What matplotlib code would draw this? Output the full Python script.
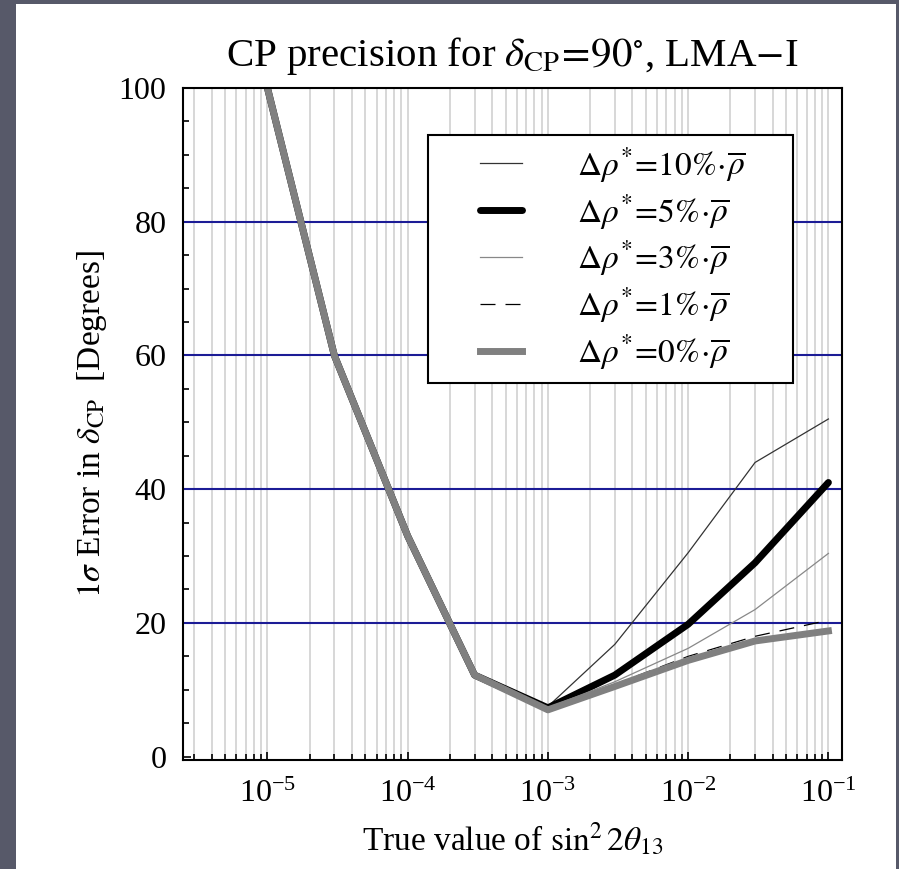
import matplotlib
matplotlib.use("Agg")
import matplotlib.pyplot as plt
from matplotlib.patches import Rectangle
from matplotlib.ticker import LogLocator, NullFormatter, MultipleLocator

plt.rcParams['font.family'] = ['Liberation Serif', 'DejaVu Serif']
plt.rcParams['mathtext.fontset'] = 'stix'

# true value of sin^2 2theta13
x = [1e-5, 3e-5, 1e-4, 3e-4, 1e-3, 3e-3, 1e-2, 3e-2, 1e-1]

# 1 sigma error on delta_CP [deg] for each density uncertainty
err_10 = [100, 60, 33, 12.2, 7.5, 16.8, 30.5, 44.0, 50.5]
err_5 = [100, 60, 33, 12.2, 7.3, 12.2, 19.8, 29.0, 41.0]
err_3 = [100, 60, 33, 12.2, 7.3, 11.2, 16.2, 22.0, 30.4]
err_1 = [100, 60, 33, 12.2, 7.2, 10.8, 15.0, 18.0, 20.4]
err_0 = [100, 60, 33, 12.2, 7.0, 10.5, 14.4, 17.3, 18.8]

labels = [r'$\Delta\rho^{*}\!=\!10\%\!\cdot\!\overline{\rho}$',
          r'$\Delta\rho^{*}\!=\!5\%\!\cdot\!\overline{\rho}$',
          r'$\Delta\rho^{*}\!=\!3\%\!\cdot\!\overline{\rho}$',
          r'$\Delta\rho^{*}\!=\!1\%\!\cdot\!\overline{\rho}$',
          r'$\Delta\rho^{*}\!=\!0\%\!\cdot\!\overline{\rho}$']

fig = plt.figure(figsize=(8.99, 8.69), dpi=100, facecolor='#575969')
# white slide panel
fig.patches.append(Rectangle((16/899, 0), 880/899, 865/869, transform=fig.transFigure,
                             facecolor='white', edgecolor='none', zorder=-1))

ax = fig.add_axes([183/899, 1 - 760/869, 659/899, 672/869])

ax.plot(x, err_10, color='#333333', lw=0.9, label=labels[0], zorder=3)
ax.plot(x, err_5, color='black', lw=5, label=labels[1], zorder=3, solid_capstyle='round')
ax.plot(x, err_3, color='#888888', lw=0.9, label=labels[2], zorder=3)
ax.plot(x, err_1, color='black', lw=0.9, ls=(0, (12, 8)), label=labels[3], zorder=3)
ax.plot(x, err_0, color='#808080', lw=5, label=labels[4], zorder=3.5)

ax.set_xscale('log')
ax.set_xlim(2.5e-6, 0.125)
ax.set_ylim(-0.5, 100)
ax.xaxis.set_major_locator(LogLocator(base=10, numticks=10))
ax.xaxis.set_minor_locator(LogLocator(base=10, subs=range(2, 10), numticks=20))
ax.xaxis.set_minor_formatter(NullFormatter())
ax.yaxis.set_major_locator(MultipleLocator(20))
ax.yaxis.set_minor_locator(MultipleLocator(5))

ax.grid(True, which='both', axis='x', color='#d4d4d4', lw=1.3)
for yv in ax.get_yticks():
    if 0 < yv < 100:
        ax.axhline(yv, color='#1c1c96', lw=1.5, zorder=2)

ax.tick_params(which='both', direction='in', top=False, right=False, width=1.2, labelsize=23)
ax.tick_params(which='major', length=6)
ax.tick_params(which='minor', length=4)
ax.tick_params(axis='y', pad=12)
ax.tick_params(axis='x', pad=14)
for s in ax.spines.values():
    s.set_linewidth(1.5)
    s.set_zorder(6)

ax.set_title(r'CP precision for $\delta_{\mathrm{CP}}\!=\!90^{\circ}$, LMA$-$I', fontsize=29.5, pad=16)
ax.set_ylabel(r'$1\sigma$ Error in $\delta_{\mathrm{CP}}$  [Degrees]', fontsize=24, labelpad=7)
ax.set_xlabel(r'True value of $\sin^2 2\theta_{13}$', fontsize=24, labelpad=9)

# legend with a hand-made frame
ax.add_patch(Rectangle(((428-183)/659, (760-383)/672), (793-428)/659, (383-135)/672,
                       transform=ax.transAxes, facecolor='white', edgecolor='black',
                       lw=1.5, zorder=4))
leg = ax.legend(loc='upper left', bbox_to_anchor=((480-183)/659, (760-145)/672),
                frameon=False, fontsize=24, handlelength=1.26, handletextpad=1.65,
                borderpad=0, borderaxespad=0, labelspacing=0.22)
leg.set_zorder(5)

fig.savefig('out.png', dpi=100, facecolor=fig.get_facecolor())
